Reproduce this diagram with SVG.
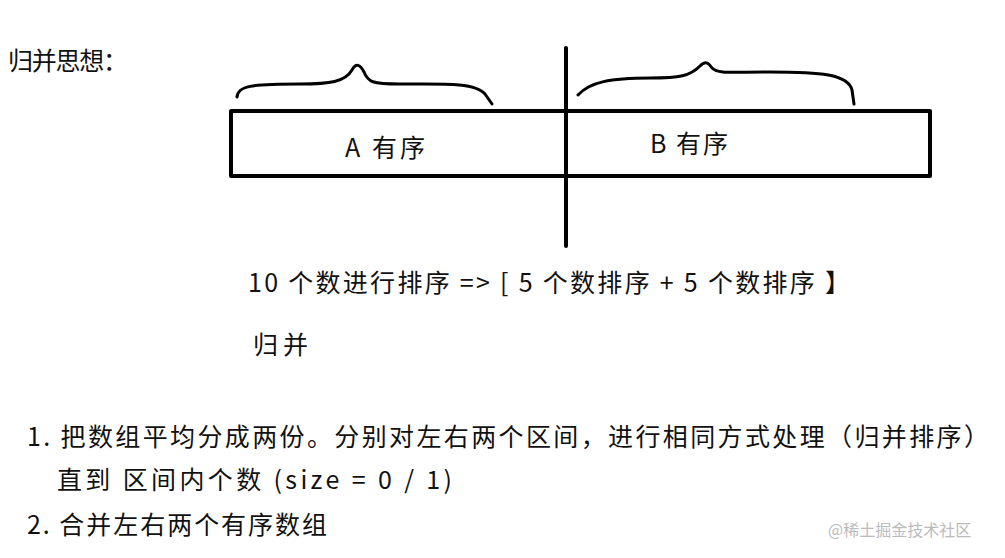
<svg xmlns="http://www.w3.org/2000/svg" width="1005" height="558" viewBox="0 0 1005 558">
<style>
text{font-family:"Noto Sans CJK SC","Noto Sans",sans-serif;fill:#111;}
.t{font-size:25px}
.s{stroke:#000;fill:none;stroke-linecap:round;stroke-linejoin:round}
</style>
<rect width="1005" height="558" fill="#fff"/>
<g id="box"><rect class="s" x="231" y="111" width="699" height="65" stroke-width="4"/></g>
<g id="divider"><line class="s" x1="566" y1="48" x2="566" y2="246" stroke-width="4"/></g>
<g id="braces">
<path class="s" stroke-width="3" d="M237,97 C238,86 250,84 300,84 C330,84 345,82 352,70 C356,63 360,64 364,72 C368,82 372,84 400,84 C440,84 475,82 485,94 L492,104"/>
<path class="s" stroke-width="3" d="M578,95 C590,82 610,78 650,78 C680,78 690,76 700,66 C705,61 708,62 712,68 C718,74 730,72 770,72 C820,72 848,74 852,90 L854,104"/>
</g>
<text x="8" y="70" class="t" textLength="120">归并思想：</text>
<text x="345" y="157" class="t" textLength="80">A 有序</text>
<text x="650" y="153" class="t" textLength="78">B 有序</text>
<text x="248" y="292" class="t" textLength="602">10 个数进行排序 =&gt; [ 5 个数排序 + 5 个数排序 】</text>
<text x="253" y="354" class="t" textLength="55">归并</text>
<text x="27" y="446" class="t" textLength="962">1. 把数组平均分成两份。分别对左右两个区间，进行相同方式处理（归并排序）</text>
<text x="57" y="489" class="t" textLength="395">直到 区间内个数 (size = 0 / 1)</text>
<text x="27" y="534" class="t" textLength="300">2. 合并左右两个有序数组</text>
<text x="828" y="536" style="font-size:16px;fill:#bbb">@稀土掘金技术社区</text>
</svg>
